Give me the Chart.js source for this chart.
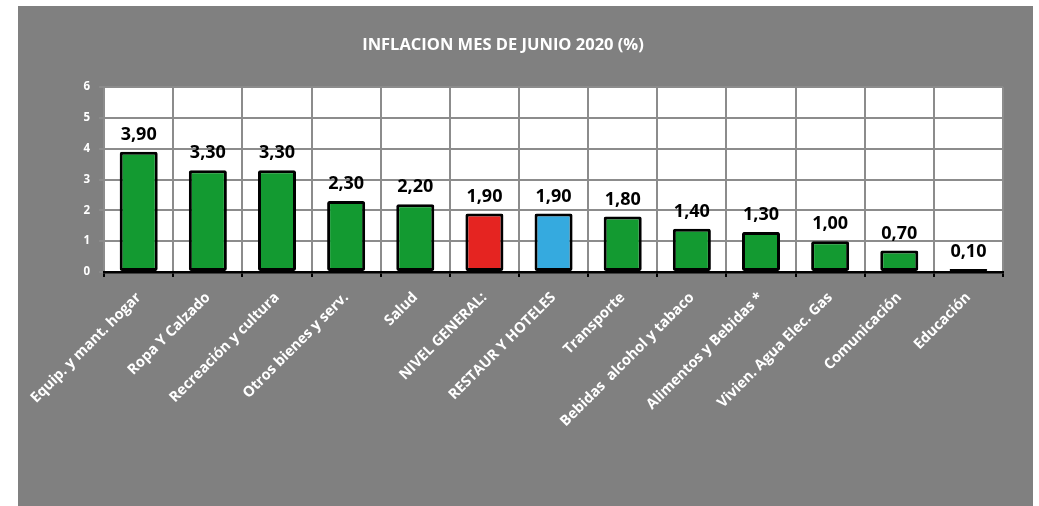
<!DOCTYPE html>
<html>
<head>
<meta charset="utf-8">
<script src="https://cdn.jsdelivr.net/npm/chart.js@4.4.1/dist/chart.umd.min.js"></script>
<style>
  html, body { margin: 0; padding: 0; background: #ffffff; }
  #wrap { position: absolute; left: 18px; top: 6px; width: 1015px; height: 500px; background: #808080; }
  canvas { display: block; }
</style>
</head>
<body>
<div id="wrap"><canvas id="c" width="1015" height="500"></canvas></div>
<script>
const titleText = "INFLACION MES DE JUNIO 2020 (%)";
const categories = [
  "Equip. y mant. hogar", "Ropa Y Calzado", "Recreación y cultura", "Otros bienes y serv.",
  "Salud", "NIVEL GENERAL:", "RESTAUR Y HOTELES", "Transporte", "Bebidas  alcohol y tabaco",
  "Alimentos y Bebidas *", "Vivien. Agua Elec. Gas", "Comunicación", "Educación"
];
const values = [3.90, 3.30, 3.30, 2.30, 2.20, 1.90, 1.90, 1.80, 1.40, 1.30, 1.00, 0.70, 0.10];
const barColors = ["#139A31", "#139A31", "#139A31", "#139A31", "#139A31", "#E52421", "#35AADF",
  "#139A31", "#139A31", "#139A31", "#139A31", "#139A31", "#139A31"];
const yTicks = [0, 1, 2, 3, 4, 5, 6];

const FONT = "'Open Sans', sans-serif";

const plotBg = {
  id: 'plotBg',
  beforeDraw(chart) {
    const { ctx, chartArea: a } = chart;
    ctx.save();
    ctx.fillStyle = '#ffffff';
    ctx.fillRect(a.left, a.top, a.right - a.left, a.bottom - a.top);
    ctx.restore();
  }
};

const titlePlugin = {
  id: 'titleText',
  afterDraw(chart) {
    const ctx = chart.ctx;
    ctx.save();
    ctx.font = "bold 16.5px " + FONT;
    ctx.fillStyle = '#ffffff';
    ctx.textAlign = 'center';
    ctx.textBaseline = 'middle';
    ctx.fillText(titleText, 485, 39);
    ctx.restore();
  }
};

const valueLabels = {
  id: 'valueLabels',
  afterDatasetsDraw(chart) {
    const ctx = chart.ctx;
    const meta = chart.getDatasetMeta(0);
    ctx.save();
    ctx.font = "bold 18px " + FONT;
    ctx.fillStyle = '#000000';
    ctx.textAlign = 'center';
    ctx.textBaseline = 'middle';
    meta.data.forEach((bar, i) => {
      ctx.fillText(values[i].toFixed(2).replace('.', ','), bar.x, bar.y - 17);
    });
    ctx.restore();
  }
};

new Chart(document.getElementById('c'), {
  type: 'bar',
  data: {
    labels: categories,
    datasets: [{
      data: values,
      backgroundColor: barColors,
      borderColor: '#000000',
      borderWidth: 3,
      borderSkipped: false,
      borderRadius: 2,
      barPercentage: 0.55,
      categoryPercentage: 1.0
    }]
  },
  options: {
    responsive: false,
    animation: false,
    devicePixelRatio: 1,
    layout: { padding: { top: 81, left: 0, right: 30, bottom: 0 } },
    plugins: { legend: { display: false }, tooltip: { enabled: false }, title: { display: false } },
    scales: {
      x: {
        grid: { color: '#8c8c8c', lineWidth: 2, tickColor: '#000000', tickLength: 5, tickWidth: 2, offset: true },
        border: { color: '#000000', width: 2.5 },
        ticks: {
          color: '#ffffff', font: { family: FONT, weight: 'bold', size: 14.5 },
          minRotation: 45, maxRotation: 45, autoSkip: false, padding: 12
        },
        afterFit(scale) { scale.height = 234; }
      },
      y: {
        min: 0, max: 6,
        afterBuildTicks(scale) { scale.ticks = yTicks.map(v => ({ value: v })); },
        grid: { color: '#8c8c8c', lineWidth: 2, tickLength: 5 },
        border: { display: false },
        ticks: { color: '#ffffff', font: { family: FONT, weight: 'bold', size: 11.5 }, padding: 9 },
        afterFit(scale) { scale.width = 85; }
      }
    }
  },
  plugins: [plotBg, titlePlugin, valueLabels]
});
</script>
</body>
</html>
